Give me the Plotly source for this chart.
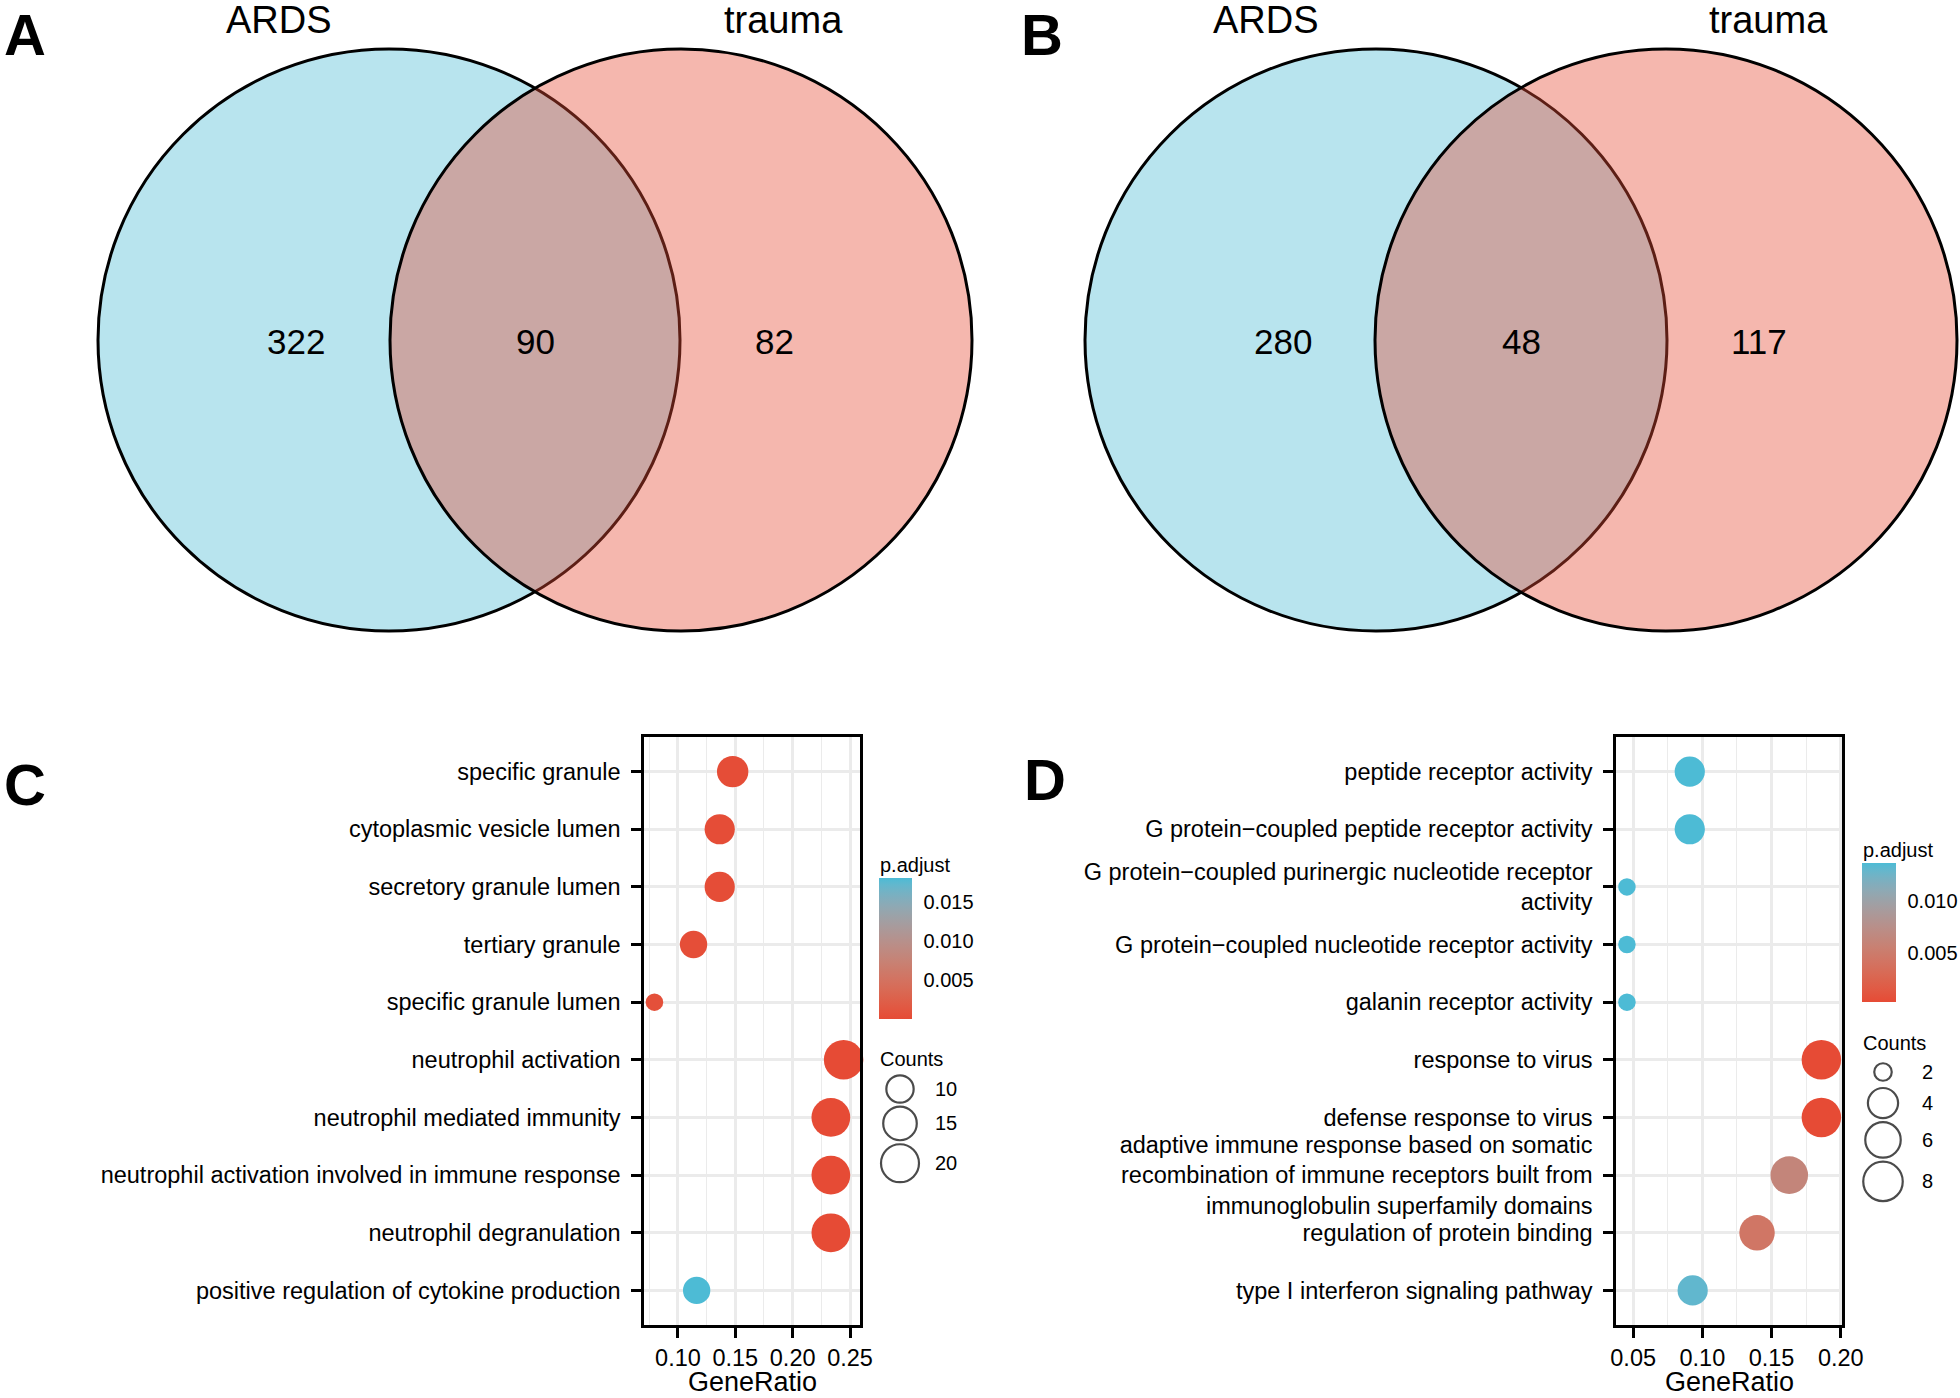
import numpy as np
import plotly.graph_objects as go

W, H = 1960, 1398
FONT = "Liberation Sans, Arial, sans-serif"

# ---------------- data ----------------
venn_sets = ["ARDS", "trauma"]
venn_A = [322, 90, 82]      # ARDS only, both, trauma only
venn_B = [280, 48, 117]

terms_C = ["specific granule", "cytoplasmic vesicle lumen", "secretory granule lumen",
           "tertiary granule", "specific granule lumen", "neutrophil activation",
           "neutrophil mediated immunity", "neutrophil activation involved in immune response",
           "neutrophil degranulation", "positive regulation of cytokine production"]
ratio_C = [0.1477, 0.1364, 0.1364, 0.1136, 0.0795, 0.2444, 0.2333, 0.2333, 0.2333, 0.1163]
counts_C = [13, 12, 12, 10, 7, 22, 21, 21, 21, 10]
padj_C = [2e-4, 2e-4, 2e-4, 4e-4, 6e-4, 1e-5, 1e-5, 1e-5, 1e-5, 0.0181]

terms_D = ["peptide receptor activity", "G protein\u2212coupled peptide receptor activity",
           "G protein\u2212coupled purinergic nucleotide receptor<br>activity",
           "G protein\u2212coupled nucleotide receptor activity", "galanin receptor activity",
           "response to virus", "defense response to virus",
           "adaptive immune response based on somatic<br>recombination of immune receptors built from<br>immunoglobulin superfamily domains",
           "regulation of protein binding", "type I interferon signaling pathway"]
ratio_D = [0.0909, 0.0909, 0.0455, 0.0455, 0.0455, 0.1860, 0.1860, 0.1628, 0.1395, 0.0930]
counts_D = [4, 4, 2, 2, 2, 8, 8, 7, 6, 4]
padj_D = [0.0136, 0.0136, 0.0136, 0.0136, 0.0136, 0.0003, 0.0003, 0.0062, 0.0044, 0.0130]

cbar_ticks_C = [0.005, 0.010, 0.015]
cbar_ticks_D = [0.005, 0.010]
legend_counts_C = [10, 15, 20]
legend_counts_D = [2, 4, 6, 8]

# ---------------- style helpers ----------------
LOW = (230, 75, 53)    # small p.adjust
HIGH = (77, 187, 213)  # large p.adjust


def _lin(c):
    c = c / 255.0
    return c / 12.92 if c <= 0.04045 else ((c + 0.055) / 1.055) ** 2.4


def _delin(c):
    c = 12.92 * c if c <= 0.0031308 else 1.055 * c ** (1 / 2.4) - 0.055
    return min(max(c, 0), 1) * 255


WHITE = (0.95047, 1.0, 1.08883)
M = np.array([[0.4124, 0.3576, 0.1805], [0.2126, 0.7152, 0.0722], [0.0193, 0.1192, 0.9505]])
MI = np.linalg.inv(M)


def rgb2lab(rgb):
    xyz = M @ np.array([_lin(v) for v in rgb])
    d = 6 / 29
    f = lambda t: t ** (1 / 3) if t > d ** 3 else t / (3 * d * d) + 4 / 29
    fx_, fy_, fz_ = (f(xyz[i] / WHITE[i]) for i in range(3))
    return np.array([116 * fy_ - 16, 500 * (fx_ - fy_), 200 * (fy_ - fz_)])


def lab2rgb(lab):
    d = 6 / 29
    fy_ = (lab[0] + 16) / 116
    fx_ = fy_ + lab[1] / 500
    fz_ = fy_ - lab[2] / 200
    finv = lambda t: t ** 3 if t > d else 3 * d * d * (t - 4 / 29)
    xyz = np.array([finv(fx_) * WHITE[0], finv(fy_) * WHITE[1], finv(fz_) * WHITE[2]])
    lin = MI @ xyz
    return tuple(int(round(_delin(v))) for v in lin)


la, lb = rgb2lab(LOW), rgb2lab(HIGH)
colorscale = []
for t in np.linspace(0, 1, 21):
    r, g, b = lab2rgb(la + (lb - la) * t)
    colorscale.append([float(t), f"rgb({r},{g},{b})"])

D_MIN, D_MAX = 17.5, 39.5


def size_scale(vals, lims):
    lo, hi = lims
    return [D_MIN + (D_MAX - D_MIN) * np.sqrt((v - lo) / (hi - lo)) for v in vals]


def fx(p):
    return p / W


def fy(p):
    return 1 - p / H


fig = go.Figure()
annotations = []
shapes = []
LEG_FONT = 20

# ---------------- dot plots ----------------
panels = [
    dict(terms=terms_C, ratio=ratio_C, counts=counts_C, padj=padj_C, xa="x", ya="y",
         box=(644, 860, 737, 1325), xrange=[0.0704, 0.2587], cb_ticks=cbar_ticks_C,
         cb=(879, 33, 878, 1019), leg=legend_counts_C, leg_title_y=1059, leg_y0=1089,
         leg_x=900, leg_lab_x=933),
    dict(terms=terms_D, ratio=ratio_D, counts=counts_D, padj=padj_D, xa="x2", ya="y2",
         box=(1616, 1842, 737, 1325), xrange=[0.0376, 0.2009], cb_ticks=cbar_ticks_D,
         cb=(1862, 34, 863, 1002), leg=legend_counts_D, leg_title_y=1043, leg_y0=1072,
         leg_x=1883, leg_lab_x=1920),
]

axis_common = dict(showline=True, mirror=True, linecolor="black", linewidth=2.5,
                   ticks="outside", ticklen=10, tickwidth=2.5, tickcolor="black",
                   showgrid=True, gridcolor="#EBEBEB", gridwidth=2.5, zeroline=False,
                   tickfont=dict(size=23.5, color="black", family=FONT))

layout_axes = {}
for i, p in enumerate(panels):
    lims = (min(p["counts"]), max(p["counts"]))
    sizes = size_scale(p["counts"], lims)
    cbx, cbw, cbt, cbb = p["cb"]
    cmin, cmax = min(p["padj"]), max(p["padj"])
    fig.add_trace(go.Scatter(
        x=p["ratio"], y=p["terms"], mode="markers", xaxis=p["xa"], yaxis=p["ya"],
        cliponaxis=False, showlegend=False, hoverinfo="skip",
        marker=dict(size=sizes, color=p["padj"], colorscale=colorscale, cmin=cmin, cmax=cmax,
                    line=dict(width=0), opacity=1, showscale=True,
                    colorbar=dict(x=fx(cbx), xanchor="left", xpad=0, y=fy(cbb), yanchor="bottom",
                                  ypad=0, len=cbb - cbt, lenmode="pixels", thickness=cbw,
                                  thicknessmode="pixels", outlinewidth=0,
                                  tickvals=p["cb_ticks"], ticktext=[f"{v:.3f}" for v in p["cb_ticks"]],
                                  ticks="outside", ticklen=8, tickcolor="rgba(0,0,0,0)", tickwidth=1,
                                  tickfont=dict(size=LEG_FONT, color="black", family=FONT)))))
    # white tick marks on both sides of the colour bar
    for v in p["cb_ticks"]:
        yy = cbb - (v - cmin) / (cmax - cmin) * (cbb - cbt)
        for xa_, xb_ in [(cbx, cbx + 7), (cbx + cbw - 7, cbx + cbw)]:
            shapes.append(dict(type="line", xref="x3", yref="y3", x0=xa_, x1=xb_, y0=yy, y1=yy,
                               line=dict(color="white", width=1.5), layer="above"))
    l, r, t, b = p["box"]
    n = len(p["terms"])
    xkey = "xaxis" if i == 0 else "xaxis2"
    ykey = "yaxis" if i == 0 else "yaxis2"
    layout_axes[xkey] = dict(axis_common, domain=[fx(l), fx(r)], range=p["xrange"], anchor=p["ya"],
                             tick0=0, dtick=0.05, tickformat=".2f",
                             minor=dict(tick0=0, dtick=0.025, showgrid=True, gridcolor="#EBEBEB",
                                        gridwidth=1.2, ticks=""))
    layout_axes[ykey] = dict(axis_common, domain=[fy(b), fy(t)], anchor=p["xa"], type="category",
                             categoryorder="array", categoryarray=p["terms"],
                             range=[n - 1 + 0.6, -0.6], ticklabelstandoff=6)
    # axis title
    annotations.append(dict(text="GeneRatio", xref="x3", yref="y3", x=(l + r) / 2, y=1382,
                            showarrow=False, xanchor="center", yanchor="middle",
                            font=dict(size=27, color="black", family=FONT)))
    # colour bar title
    annotations.append(dict(text="p.adjust", xref="x3", yref="y3", x=cbx - 1, y=cbt - 13,
                            showarrow=False, xanchor="left", yanchor="middle",
                            font=dict(size=LEG_FONT, color="black", family=FONT)))
    # size legend
    annotations.append(dict(text="Counts", xref="x3", yref="y3", x=cbx - 1, y=p["leg_title_y"],
                            showarrow=False, xanchor="left", yanchor="middle",
                            font=dict(size=LEG_FONT, color="black", family=FONT)))
    lsz = size_scale(p["leg"], lims)
    kh = [max(d, 24) + 4 for d in lsz]
    ys = [p["leg_y0"]]
    for k in range(1, len(kh)):
        ys.append(ys[-1] + (kh[k - 1] + kh[k]) / 2)
    fig.add_trace(go.Scatter(x=[p["leg_x"]] * len(ys), y=ys, mode="markers", xaxis="x3", yaxis="y3",
                             showlegend=False, hoverinfo="skip", cliponaxis=False,
                             marker=dict(size=lsz, color="white", line=dict(color="black", width=2.2))))
    for v, yy in zip(p["leg"], ys):
        annotations.append(dict(text=str(v), xref="x3", yref="y3", x=p["leg_lab_x"], y=yy,
                                showarrow=False, xanchor="left", yanchor="middle",
                                font=dict(size=LEG_FONT, color="black", family=FONT)))

# ---------------- Venn diagrams ----------------
VENN_R = 291
VENN_CY = 340
venns = [(venn_A, 389, 681), (venn_B, 1376, 1666)]
for vals, c1, c2 in venns:
    for cx, col in [(c1, "rgba(77,187,213,0.4)"), (c2, "rgba(230,75,53,0.4)")]:
        shapes.append(dict(type="circle", xref="x3", yref="y3", x0=cx - VENN_R, x1=cx + VENN_R,
                           y0=VENN_CY - VENN_R, y1=VENN_CY + VENN_R, fillcolor=col,
                           line=dict(color="black", width=3), layer="above"))
    off = 0.32 * VENN_R
    for val, xx in zip(vals, [c1 - off, (c1 + c2) / 2, c2 + off]):
        annotations.append(dict(text=str(val), xref="x3", yref="y3", x=xx, y=VENN_CY + 1,
                                showarrow=False, xanchor="center", yanchor="middle",
                                font=dict(size=35, color="black", family=FONT)))
    for name, xx in zip(venn_sets, [c1 - 110, c2 + 102]):
        annotations.append(dict(text=name, xref="x3", yref="y3", x=xx, y=20,
                                showarrow=False, xanchor="center", yanchor="middle",
                                font=dict(size=38, color="black", family=FONT)))

# panel letters
for letter, xx, yy in [("A", 2, 0), ("B", 1019, 0), ("C", 2, 750), ("D", 1022, 745)]:
    annotations.append(dict(text=f"<b>{letter}</b>", xref="x3", yref="y3", x=xx, y=yy,
                            showarrow=False, xanchor="left", yanchor="top",
                            font=dict(size=58, color="black", family=FONT)))

layout_axes["xaxis3"] = dict(domain=[0, 1], range=[0, W], visible=False, anchor="y3", fixedrange=True)
layout_axes["yaxis3"] = dict(domain=[0, 1], range=[H, 0], visible=False, anchor="x3", fixedrange=True)

fig.update_layout(width=W, height=H, margin=dict(l=0, r=0, t=0, b=0), template="none",
                  paper_bgcolor="white", plot_bgcolor="rgba(0,0,0,0)", showlegend=False,
                  font=dict(family=FONT, color="black"), annotations=annotations, shapes=shapes,
                  **layout_axes)

fig.write_html("out.html", config={"displayModeBar": False},
               post_script="document.body.style.margin='0';document.body.style.overflow='hidden';")
